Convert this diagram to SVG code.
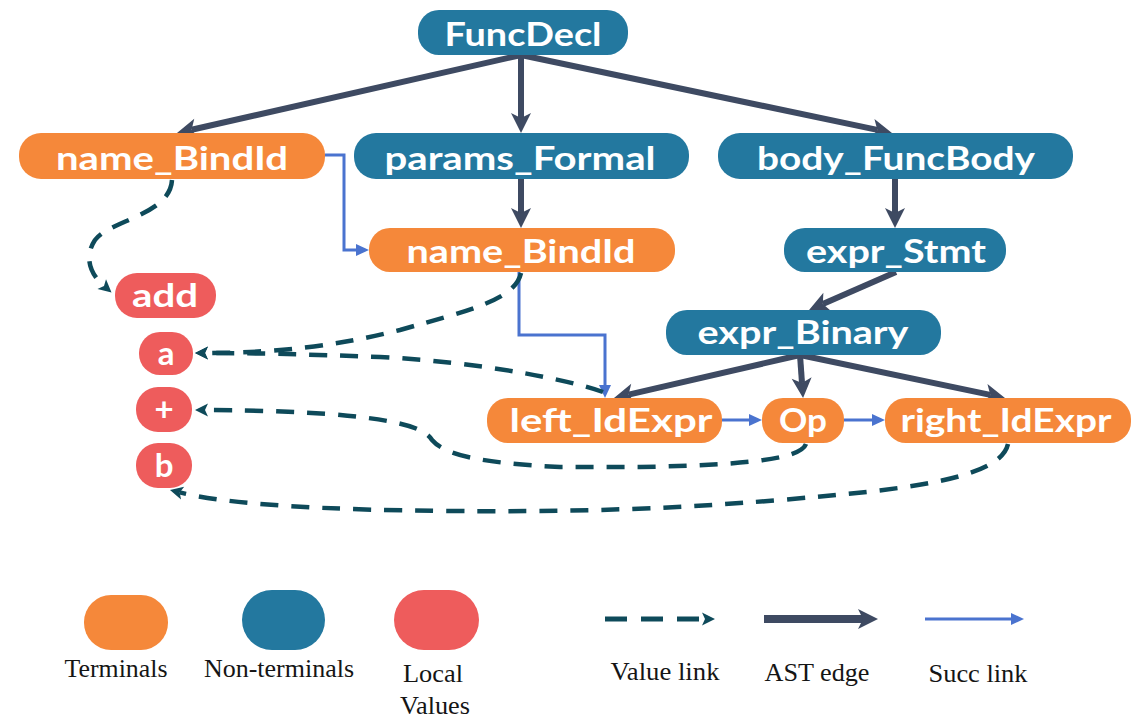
<svg xmlns="http://www.w3.org/2000/svg" width="1134" height="717" viewBox="0 0 1134 717">
  <style>
    .term { fill: #F5883A; }
    .nonterm { fill: #23789F; }
    .local { fill: #EE5C5C; }
    .lbl { font-family: Lato, "Open Sans", "Liberation Sans", sans-serif; font-weight: 700; font-size: 33px; fill: #ffffff; text-anchor: middle; }
    .ast { stroke: #3E4A62; stroke-width: 6; fill: none; marker-end: url(#astHead); }
    .succ { stroke: #4A73CF; stroke-width: 3; fill: none; marker-end: url(#succHead); }
    .val { stroke: #0E4A5A; stroke-width: 4.5; fill: none; stroke-dasharray: 18 13; marker-end: url(#valHead); }
    .legend { font-family: "Liberation Serif", "Times New Roman", serif; font-size: 25px; fill: #151515; text-anchor: middle; }
  </style>
  <defs>
    <marker id="astHead" viewBox="-7 -12 24 24" markerWidth="24" markerHeight="24" refX="0" refY="0" orient="auto" markerUnits="userSpaceOnUse" overflow="visible">
      <path d="M-5,-10 L15,0 L-5,10 L0,0 Z" fill="#3E4A62"/>
    </marker>
    <marker id="valHead" viewBox="-5 -8 18 16" markerWidth="18" markerHeight="16" refX="0" refY="0" orient="auto" markerUnits="userSpaceOnUse" overflow="visible">
      <path d="M-3,-6.5 L10,0 L-3,6.5 L0,0 Z" fill="#0E4A5A"/>
    </marker>
    <marker id="succHead" viewBox="-2 -7 16 14" markerWidth="16" markerHeight="14" refX="0" refY="0" orient="auto" markerUnits="userSpaceOnUse" overflow="visible">
      <path d="M-1,-6 L12,0 L-1,6 Z" fill="#4A73CF"/>
    </marker>
  </defs>

  <!-- connectors -->
  <g id="connectors">
    <!-- AST edges -->
    <line class="ast" x1="521" y1="55" x2="191.6" y2="129.7"/>
    <line class="ast" x1="521" y1="55" x2="521" y2="118"/>
    <line class="ast" x1="521" y1="55" x2="877.3" y2="129.9"/>
    <line class="ast" x1="521" y1="179" x2="521" y2="213"/>
    <line class="ast" x1="895" y1="179" x2="895" y2="213"/>
    <line class="ast" x1="896" y1="272" x2="822.8" y2="304"/>
    <line class="ast" x1="800" y1="355" x2="628.6" y2="394.6"/>
    <line class="ast" x1="800" y1="355" x2="802" y2="383"/>
    <line class="ast" x1="800" y1="355" x2="990.3" y2="394.9"/>

    <!-- successor links -->
    <polyline class="succ" points="325,155 344,155 344,250 357,250"/>
    <polyline class="succ" points="519,272 519,335 605,335 605,386"/>
    <line class="succ" x1="722" y1="420" x2="750" y2="420"/>
    <line class="succ" x1="844" y1="420" x2="873" y2="420"/>

    <!-- value links -->
    <path class="val" d="M172,180 C170,215 110,220 95,240 C85,255 88,272 104,286"/>
    <path class="val" d="M521,273 C515,300 470,310 400,330 C340,345 280,353 205,353"/>
    <path class="val" d="M603,392 C570,380 480,362 380,357 C300,354 250,353 205,353"/>
    <path class="val" d="M806,444 C800,460 740,465 640,467 L560,467 C480,463 445,455 432,440 C425,428 400,420 330,414 C280,411 240,410 205,410"/>
    <path class="val" d="M1008,444 C1000,480 900,490 780,500 C680,508 600,512 450,511 C330,510 230,505 179.7,492.4"/>
  </g>

  <!-- nodes -->
  <g id="FuncDecl">
    <rect class="nonterm" x="418" y="10" width="210" height="45" rx="21"/>
    <text class="lbl" x="523" y="46" textLength="157" lengthAdjust="spacingAndGlyphs">FuncDecl</text>
  </g>
  <g id="name_BindId_1">
    <rect class="term" x="19" y="133" width="306" height="46" rx="22"/>
    <text class="lbl" x="172" y="170" textLength="232" lengthAdjust="spacingAndGlyphs">name_BindId</text>
  </g>
  <g id="params_Formal">
    <rect class="nonterm" x="354" y="133" width="335" height="46" rx="22"/>
    <text class="lbl" x="520" y="170" textLength="271" lengthAdjust="spacingAndGlyphs">params_Formal</text>
  </g>
  <g id="body_FuncBody">
    <rect class="nonterm" x="718" y="133" width="355" height="46" rx="22"/>
    <text class="lbl" x="896" y="170" textLength="278" lengthAdjust="spacingAndGlyphs">body_FuncBody</text>
  </g>
  <g id="name_BindId_2">
    <rect class="term" x="369" y="228" width="306" height="44" rx="21"/>
    <text class="lbl" x="521" y="263" textLength="229" lengthAdjust="spacingAndGlyphs">name_BindId</text>
  </g>
  <g id="expr_Stmt">
    <rect class="nonterm" x="784" y="228" width="222" height="44" rx="21"/>
    <text class="lbl" x="896" y="263" textLength="180" lengthAdjust="spacingAndGlyphs">expr_Stmt</text>
  </g>
  <g id="add">
    <rect class="local" x="115" y="273" width="101" height="45" rx="22"/>
    <text class="lbl" x="165" y="307" textLength="66" lengthAdjust="spacingAndGlyphs">add</text>
  </g>
  <g id="expr_Binary">
    <rect class="nonterm" x="666" y="310" width="275" height="45" rx="21"/>
    <text class="lbl" x="803" y="344" textLength="211" lengthAdjust="spacingAndGlyphs">expr_Binary</text>
  </g>
  <g id="a">
    <rect class="local" x="139" y="332" width="54" height="43" rx="21"/>
    <text class="lbl" x="166" y="365">a</text>
  </g>
  <g id="plus">
    <rect class="local" x="136" y="387" width="56" height="45" rx="22"/>
    <text class="lbl" x="164" y="421">+</text>
  </g>
  <g id="b">
    <rect class="local" x="136" y="443" width="56" height="45" rx="22"/>
    <text class="lbl" x="164" y="477">b</text>
  </g>
  <g id="left_IdExpr">
    <rect class="term" x="487" y="398" width="235" height="45" rx="21"/>
    <text class="lbl" x="611" y="432" textLength="203" lengthAdjust="spacingAndGlyphs">left_IdExpr</text>
  </g>
  <g id="Op">
    <rect class="term" x="762" y="398" width="82" height="45" rx="21"/>
    <text class="lbl" x="803" y="432" textLength="48" lengthAdjust="spacingAndGlyphs">Op</text>
  </g>
  <g id="right_IdExpr">
    <rect class="term" x="885" y="398" width="246" height="45" rx="21"/>
    <text class="lbl" x="1006" y="432" textLength="211" lengthAdjust="spacingAndGlyphs">right_IdExpr</text>
  </g>

  <!-- legend -->
  <g id="legend">
    <rect class="term" x="84" y="595" width="84" height="55" rx="27"/>
    <rect class="nonterm" x="242" y="590" width="83" height="60" rx="30"/>
    <rect class="local" x="394" y="590" width="85" height="60" rx="30"/>
    <text class="legend" x="116" y="677" textLength="103" lengthAdjust="spacingAndGlyphs">Terminals</text>
    <text class="legend" x="279" y="677" textLength="150" lengthAdjust="spacingAndGlyphs">Non-terminals</text>
    <text class="legend" x="433" y="682" textLength="60" lengthAdjust="spacingAndGlyphs">Local</text>
    <text class="legend" x="435" y="714" textLength="70" lengthAdjust="spacingAndGlyphs">Values</text>

    <line x1="605" y1="619" x2="705" y2="619" stroke="#0E4A5A" stroke-width="5" stroke-dasharray="22 14" marker-end="url(#valHead)"/>
    <line x1="764" y1="619" x2="863" y2="619" stroke="#3E4A62" stroke-width="8" marker-end="url(#astHead)"/>
    <line x1="925" y1="619" x2="1012" y2="619" stroke="#4A73CF" stroke-width="3" marker-end="url(#succHead)"/>
    <text class="legend" x="665" y="680" textLength="109" lengthAdjust="spacingAndGlyphs">Value link</text>
    <text class="legend" x="817" y="681" textLength="105" lengthAdjust="spacingAndGlyphs">AST edge</text>
    <text class="legend" x="978" y="682" textLength="99" lengthAdjust="spacingAndGlyphs">Succ link</text>
  </g>
</svg>
